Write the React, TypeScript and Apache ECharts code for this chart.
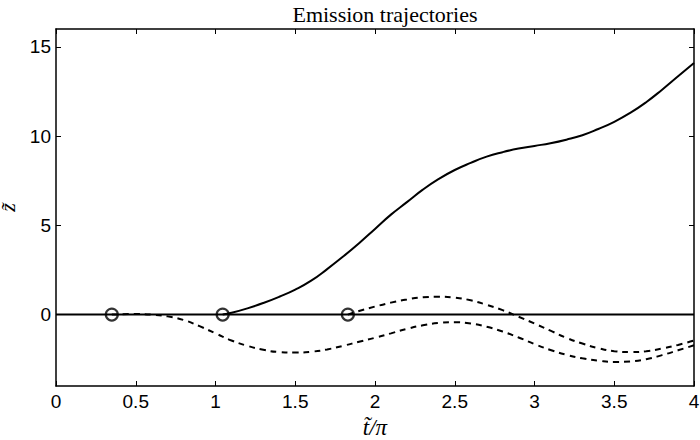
import { useEffect, useRef } from "react";
import * as echarts from "echarts";

// emission points on the z = 0 line (t/pi)
const emitT = [0.35, 1.045, 1.83];
const emitZ = [0, 0, 0];

// solid trajectory
const solidT = [1.045, 1.1, 1.2, 1.3, 1.4, 1.5, 1.6, 1.7, 1.8, 1.9, 2.0, 2.1, 2.2, 2.3, 2.4, 2.5, 2.6, 2.7, 2.8, 2.9, 3.0, 3.1, 3.2, 3.3, 3.4, 3.5, 3.6, 3.7, 3.8, 3.9, 4.0];
const solidZ = [0, 0.1, 0.35, 0.65, 1.0, 1.4, 1.9, 2.55, 3.25, 4.0, 4.8, 5.6, 6.3, 7.0, 7.6, 8.1, 8.5, 8.85, 9.1, 9.3, 9.45, 9.6, 9.8, 10.05, 10.4, 10.8, 11.3, 11.9, 12.6, 13.35, 14.1];

// dashed trajectory from the first emission point
const dashAT = [0.35, 0.5, 0.6, 0.7, 0.8, 0.9, 1.0, 1.1, 1.2, 1.3, 1.4, 1.5, 1.6, 1.7, 1.8, 1.9, 2.0, 2.1, 2.2, 2.3, 2.4, 2.5, 2.6, 2.7, 2.8, 2.9, 3.0, 3.1, 3.2, 3.3, 3.4, 3.5, 3.6, 3.7, 3.8, 3.9, 4.0];
const dashAZ = [0, 0.03, 0.0, -0.1, -0.3, -0.65, -1.05, -1.45, -1.75, -1.97, -2.1, -2.13, -2.08, -1.95, -1.75, -1.52, -1.3, -1.05, -0.8, -0.6, -0.47, -0.43, -0.5, -0.68, -0.95, -1.28, -1.65, -1.98, -2.25, -2.45, -2.58, -2.65, -2.62, -2.5, -2.27, -2.0, -1.72];

// dashed trajectory from the third emission point
const dashBT = [1.83, 1.9, 2.0, 2.1, 2.2, 2.3, 2.4, 2.5, 2.6, 2.7, 2.8, 2.9, 3.0, 3.1, 3.2, 3.3, 3.4, 3.5, 3.6, 3.7, 3.8, 3.9, 4.0];
const dashBZ = [0, 0.2, 0.45, 0.67, 0.85, 0.97, 1.0, 0.95, 0.8, 0.55, 0.25, -0.12, -0.5, -0.9, -1.3, -1.62, -1.88, -2.05, -2.1, -2.05, -1.9, -1.7, -1.45];

// baseline z = 0
const baseT = [0, 4];
const baseZ = [0, 0];

const yTicks = [0, 5, 10, 15];

const zip = (xs: number[], ys: number[]) => xs.map((x, i) => [x, ys[i]]);

const labelFont = { fontFamily: "Liberation Sans", fontSize: 19, color: "#000" };

export default function App() {
    const chartRef = useRef<HTMLDivElement | null>(null);

    useEffect(() => {
        if (!chartRef.current) return;
        const chart = echarts.init(chartRef.current, undefined, { renderer: "svg" });

        const lineAxis = { show: true, onZero: false, lineStyle: { color: "#000", width: 1.5 } };
        const tick = { show: true, inside: true, length: 5, lineStyle: { color: "#000", width: 1 } };

        const option: echarts.EChartsOption = {
            animation: false,
            backgroundColor: "#fff",
            title: {
                text: "Emission trajectories",
                left: 380,
                textAlign: "center",
                top: -2,
                textStyle: { fontFamily: "Liberation Serif", fontSize: 22, fontWeight: "normal", color: "#000" },
            },
            grid: { left: 56, right: 6, top: 29, bottom: 54, outerBoundsMode: "none", containLabel: false } as any,
            xAxis: [
                {
                    type: "value",
                    min: 0,
                    max: 4,
                    interval: 0.5,
                    position: "bottom",
                    axisLine: lineAxis,
                    axisTick: tick,
                    splitLine: { show: false },
                    axisLabel: { ...labelFont, margin: 6 },
                    name: "t\u0303/\u03c0",
                    nameLocation: "middle",
                    nameGap: 26,
                    nameTextStyle: { fontFamily: "Liberation Serif", fontStyle: "italic", fontSize: 23, color: "#000" },
                },
                {
                    type: "value",
                    min: 0,
                    max: 4,
                    interval: 0.5,
                    position: "top",
                    axisLine: lineAxis,
                    axisTick: tick,
                    splitLine: { show: false },
                    axisLabel: { show: false },
                },
            ],
            yAxis: [
                {
                    type: "value",
                    min: -4,
                    max: 16,
                    position: "left",
                    axisLine: lineAxis,
                    axisTick: { ...tick, customValues: yTicks },
                    splitLine: { show: false },
                    axisLabel: { ...labelFont, margin: 5, customValues: yTicks },
                    name: "z\u0303",
                    nameLocation: "middle",
                    nameRotate: 90,
                    nameGap: 17,
                    nameTextStyle: { fontFamily: "Liberation Serif", fontStyle: "italic", fontSize: 22, lineHeight: 22, color: "#000" },
                },
                {
                    type: "value",
                    min: -4,
                    max: 16,
                    position: "right",
                    axisLine: lineAxis,
                    axisTick: { ...tick, customValues: yTicks },
                    splitLine: { show: false },
                    axisLabel: { show: false },
                },
            ],
            series: [
                {
                    type: "line",
                    data: zip(baseT, baseZ),
                    symbol: "none",
                    lineStyle: { color: "#000", width: 2 },
                },
                {
                    type: "line",
                    data: zip(dashAT, dashAZ),
                    symbol: "none",
                    smooth: true,
                    lineStyle: { color: "#000", width: 2, type: [6, 5] },
                },
                {
                    type: "line",
                    data: zip(dashBT, dashBZ),
                    symbol: "none",
                    smooth: true,
                    lineStyle: { color: "#000", width: 2, type: [6, 5] },
                },
                {
                    type: "line",
                    data: zip(solidT, solidZ),
                    symbol: "none",
                    smooth: true,
                    lineStyle: { color: "#000", width: 2 },
                },
                {
                    type: "scatter",
                    data: zip(emitT, emitZ),
                    symbol: "circle",
                    symbolSize: 12,
                    itemStyle: { color: "rgba(0,0,0,0)", borderColor: "#000", borderWidth: 2.2 },
                },
            ],
        };

        chart.setOption(option);
        return () => chart.dispose();
    }, []);

    return (
        <div
            ref={chartRef}
            style={{ position: "fixed", left: 0, top: 0, width: "700px", height: "440px", background: "#fff" }}
        />
    );
}
